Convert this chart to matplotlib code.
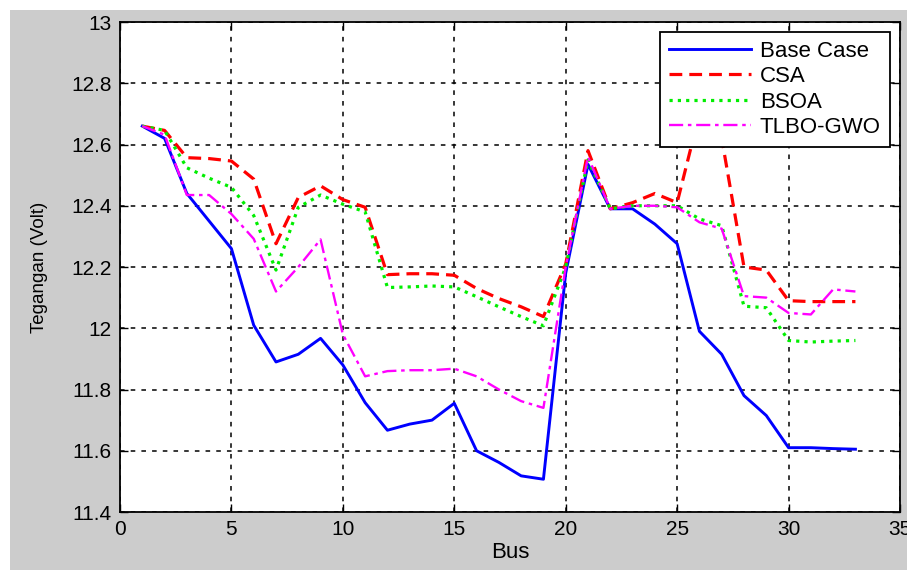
import matplotlib.pyplot as plt
from matplotlib.patches import Rectangle

# bus numbers and voltage profile per method
bus = list(range(1, 34))
base_case = [12.66, 12.62, 12.44, 12.35, 12.26, 12.01, 11.89, 11.915, 11.967, 11.88,
             11.757, 11.667, 11.687, 11.70, 11.755, 11.60, 11.562, 11.518, 11.507, 12.18,
             12.535, 12.39, 12.39, 12.34, 12.276, 11.99, 11.915, 11.78, 11.715, 11.61,
             11.61, 11.607, 11.605]
csa = [12.66, 12.646, 12.557, 12.554, 12.546, 12.487, 12.276, 12.427, 12.465, 12.42,
       12.395, 12.175, 12.178, 12.178, 12.173, 12.13, 12.097, 12.07, 12.038, 12.21,
       12.58, 12.39, 12.41, 12.44, 12.41, 12.70, 12.62, 12.20, 12.19, 12.09,
       12.087, 12.087, 12.087]
bsoa = [12.66, 12.646, 12.524, 12.49, 12.46, 12.368, 12.19, 12.395, 12.435, 12.405,
        12.38, 12.133, 12.135, 12.138, 12.135, 12.103, 12.07, 12.038, 12.008, 12.20,
        12.55, 12.39, 12.40, 12.40, 12.40, 12.357, 12.335, 12.072, 12.067, 11.96,
        11.955, 11.958, 11.96]
tlbo_gwo = [12.66, 12.632, 12.435, 12.435, 12.373, 12.292, 12.12, 12.20, 12.29, 11.98,
            11.843, 11.86, 11.863, 11.863, 11.868, 11.843, 11.80, 11.762, 11.74, 12.20,
            12.56, 12.39, 12.40, 12.40, 12.395, 12.346, 12.325, 12.105, 12.10, 12.05,
            12.045, 12.127, 12.12]

fig = plt.figure(figsize=(9.07, 5.70), dpi=100)
fig.patch.set_facecolor('white')
# grey matlab figure background, cropped at top/left
fig.patches.append(Rectangle((10 / 907, 0), 1, 560 / 570, transform=fig.transFigure,
                             facecolor='#cccccc', edgecolor='none', zorder=-1))

ax = fig.add_axes([120 / 907, 58 / 570, 780 / 907, 490 / 570])
ax.set_facecolor('white')

font = 'Liberation Sans'
ax.plot(bus, base_case, color='#0000ff', lw=2.1, ls='-', label='Base Case')
ax.plot(bus, csa, color='#ff0000', lw=2.3, ls=(0, (4, 2.2)), label='CSA')
ax.plot(bus, bsoa, color='#00ee00', lw=2.3, ls=(0, (1, 1.6)), label='BSOA')
ax.plot(bus, tlbo_gwo, color='#ff00ff', lw=1.7, ls=(0, (6, 2, 1.5, 2)), label='TLBO-GWO')

ax.set_xlim(0, 35)
ax.set_ylim(11.4, 13)
ax.set_xticks([0, 5, 10, 15, 20, 25, 30, 35])
ax.set_yticks([11.4, 11.6, 11.8, 12, 12.2, 12.4, 12.6, 12.8, 13])
ax.set_yticklabels(['11.4', '11.6', '11.8', '12', '12.2', '12.4', '12.6', '12.8', '13'])
ax.grid(True, color='black', ls=(0, (3, 4)), lw=1.1)
ax.tick_params(direction='in', top=True, right=True, length=6, width=1,
               labelsize=15, pad=6)
for lab in ax.get_xticklabels() + ax.get_yticklabels():
    lab.set_fontfamily(font)
for s in ax.spines.values():
    s.set_linewidth(1.3)

ax.set_xlabel('Bus', fontsize=16, fontfamily=font, labelpad=2)
ax.set_ylabel('Tegangan (Volt)', fontsize=13.5, fontfamily=font, labelpad=17)

leg = ax.legend(loc='upper right', bbox_to_anchor=(0.987, 0.98), fancybox=False,
                framealpha=1, edgecolor='black', borderaxespad=0,
                prop={'family': font, 'size': 16}, handlelength=3.7,
                labelspacing=0.2, borderpad=0.4, handletextpad=0.4)
leg.get_frame().set_linewidth(1.3)
leg.set_zorder(5)

fig.savefig('out.png', dpi=100)
